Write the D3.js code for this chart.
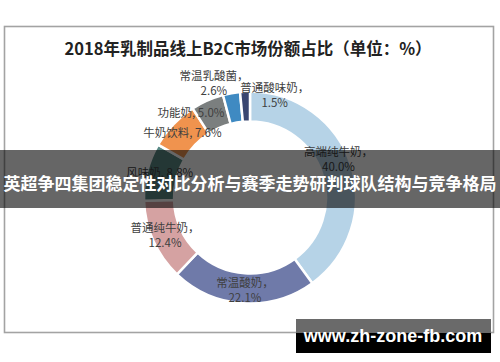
<!DOCTYPE html>
<html>
<head>
<meta charset="utf-8">
<script src="https://cdn.jsdelivr.net/npm/d3@7"></script>
<style>
  body { margin: 0; background: #fff; }
  svg { display: block; }
</style>
</head>
<body>
<div class="donut"></div>
<script>
// data
const categories = ['高端纯牛奶', '常温酸奶', '普通纯牛奶', '风味奶', '牛奶饮料', '功能奶', '常温乳酸菌', '普通酸味奶'];
const shares = [40.0, 22.1, 12.4, 8.8, 7.6, 5.0, 2.6, 1.5];
const title = '2018年乳制品线上B2C市场份额占比（单位：%）';
const bannerText = '英超争四集团稳定性对比分析与赛季走势研判球队结构与竞争格局';
const watermark = 'www.zh-zone-fb.com';

// styling / layout
const colors = ['#b6d3e7', '#6f7aa9', '#d5a2a2', '#5a8a86', '#f0934e', '#7b7f7f', '#3f8ac2', '#3a4670'];
const twoLine = [true, true, true, false, false, false, true, true];
const labelShift = [[1, -10], [1, 1], [-1, 0], [-1, -2], [-1, -1], [-22, 0], [-20, -24], [29, -11]];

const width = 500;
const height = 362;
const center = { x: 250, y: 197.5 };
const outerR = 106;
const innerR = 76;
const labelR = 92;

const svg = d3.select('.donut')
  .append('svg')
  .attr('width', width)
  .attr('height', height);

// frame
svg.append('rect')
  .attr('x', 4.5)
  .attr('y', 26.5)
  .attr('width', 489)
  .attr('height', 306)
  .attr('fill', '#fff')
  .attr('stroke', '#a3a3a3')
  .attr('stroke-width', 1.6);

svg.append('text')
  .attr('x', 248)
  .attr('y', 48)
  .attr('text-anchor', 'middle')
  .attr('dominant-baseline', 'central')
  .attr('font-family', '"Noto Sans CJK SC", sans-serif')
  .attr('font-weight', 'bold')
  .attr('font-size', 16.5)
  .attr('fill', '#222')
  .text(title);

const data = categories.map((name, i) => ({ name: name, value: shares[i], i: i }));

const pie = d3.pie()
  .sort(null)
  .value(d => d.value);

const arc = d3.arc()
  .innerRadius(innerR)
  .outerRadius(outerR);

const labelArc = d3.arc()
  .innerRadius(labelR)
  .outerRadius(labelR);

const g = svg.append('g')
  .attr('transform', `translate(${center.x},${center.y})`);

g.selectAll('path')
  .data(pie(data))
  .join('path')
  .attr('d', arc)
  .attr('fill', d => colors[d.data.i])
  .attr('stroke', '#fff')
  .attr('stroke-width', 2.5);

const labels = g.selectAll('text')
  .data(pie(data))
  .join('text')
  .attr('transform', d => {
    const c = labelArc.centroid(d);
    const s = labelShift[d.data.i];
    return `translate(${c[0] + s[0]},${c[1] + s[1]})`;
  })
  .attr('text-anchor', 'middle')
  .attr('font-family', '"Noto Sans CJK SC", sans-serif')
  .attr('font-size', 11.5)
  .attr('fill', '#404040');

labels.each(function (d) {
  const t = d3.select(this);
  const pct = d.data.value.toFixed(1) + '%';
  if (twoLine[d.data.i]) {
    t.append('tspan').attr('x', 0).attr('y', -3).text(d.data.name + '，');
    t.append('tspan').attr('x', 0).attr('y', 12).text(pct);
  } else {
    t.append('tspan').attr('x', 0).attr('y', 4).text(d.data.name + ', ' + pct);
  }
});

// overlay banner
svg.append('rect')
  .attr('x', 0)
  .attr('y', 150)
  .attr('width', width)
  .attr('height', 58)
  .attr('fill', '#000')
  .attr('fill-opacity', 0.6);

svg.append('text')
  .attr('x', width / 2)
  .attr('y', 182)
  .attr('text-anchor', 'middle')
  .attr('dominant-baseline', 'central')
  .attr('font-family', '"Noto Sans CJK SC", sans-serif')
  .attr('font-weight', 'bold')
  .attr('font-size', 17)
  .attr('fill', '#fff')
  .text(bannerText);

// watermark
svg.append('rect')
  .attr('x', 296)
  .attr('y', 319)
  .attr('width', 195)
  .attr('height', 14)
  .attr('fill', '#6a6a6a');

svg.append('rect')
  .attr('x', 296)
  .attr('y', 333)
  .attr('width', 195)
  .attr('height', 20)
  .attr('fill', '#000');

svg.append('text')
  .attr('x', 393)
  .attr('y', 336)
  .attr('text-anchor', 'middle')
  .attr('dominant-baseline', 'central')
  .attr('font-family', '"Liberation Sans", Arial, sans-serif')
  .attr('font-weight', 'bold')
  .attr('font-size', 18)
  .attr('fill', '#fff')
  .text(watermark);
</script>
</body>
</html>
